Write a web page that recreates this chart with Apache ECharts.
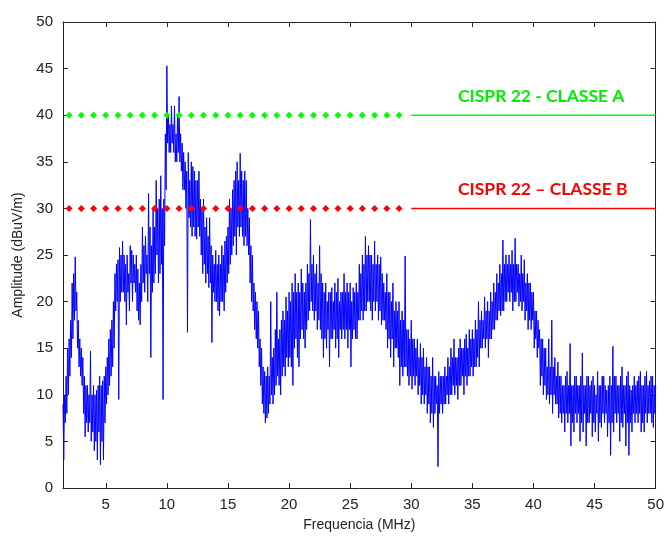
<!DOCTYPE html>
<html><head><meta charset="utf-8">
<script src="https://cdn.jsdelivr.net/npm/echarts@6/dist/echarts.min.js"></script>
<style>html,body{margin:0;padding:0;background:#fff}#c{width:667px;height:537px}</style>
</head><body><div id="c"></div>
<script>
// Spectrum samples, every 1/16 MHz starting at 1.5 MHz (one row per MHz)
const startFreq = 1.5, stepFreq = 0.0625;
const amplitude = [
 9,3, 10,7, 12,8, 15,10, 16,12, 18,14, 22,16, 23,18,
 24.8,19, 21,15, 18,13, 16,12, 15,11, 14,8, 12,5.5, 11,7,
 11,6, 10,7, 14.7,5, 10,6, 11,4, 10,5, 10.5,3, 11,6,
 12,2.5, 11,5, 11.5,3, 12,7, 13,9, 14,10, 16,11, 17,12,
 18,13, 20,15, 23,19, 24,20, 24.5,9.5, 25.8,20, 25,21, 26.5,21,
 25,20, 24,17.5, 25,21, 23,19, 26,22, 25.5,20, 25,22, 24,21,
 25,19, 23.5,18, 22,17.5, 24,20, 28,22, 26,21, 27,23, 25,20,
 31.6,23, 28,14, 26,21, 30,22, 28,23, 33,25, 30,22, 31,23,
 33.5,24, 30,9.5, 31,26, 38,32, 45.3,37, 40,36, 39,36, 41,37,
 39,36, 41,35, 38,35, 40,36, 42,35, 38,34, 37,32, 36,32,
 35,30, 34,16.7, 36,29, 33,28, 35,27, 34.5,28, 34,27, 33,26.7,
 33,28, 34,27, 31,25, 30,23, 31,24, 28,22, 29,23, 27,21.5,
 29,22, 26,15.6, 25,21, 24,20, 25.5,20, 24,19, 25,18.5, 24,20,
 26,20, 25,19, 26.5,21, 27,22, 28,23, 31,24, 30,25, 32,26,
 33,27, 34,25, 35,28, 33,27, 35.9,28, 34,27, 33,26, 34,27,
 33,26, 30,25, 29,22, 26,20, 25,19, 22,17, 21,16, 20,15,
 19,13, 16,11, 15,9, 13,8, 12.5,7, 12,7.5, 13,8, 12,9,
 20,10, 14,9, 15,10, 17,11, 21,12, 16,11, 17,10, 18,12,
 19,13, 18,12, 20.5,14, 19,13, 21,14, 20,13, 22,11, 21,15,
 23,16, 21,14, 22,13, 21,16, 23.5,17, 22,16, 21,15, 22,17,
 24,18, 23,19, 28.8,20, 24,19, 25,18, 23,19, 24,17, 22,18,
 26,17, 23,16, 22,14, 21,16, 22,15, 20,17, 21,13, 21,16,
 21.5,16, 20,17, 22,15, 21,16, 22.5,14, 20,17, 21,16, 21,17,
 23,16, 21,17, 22,15, 21,17, 22,13, 20,16, 21.5,17, 21,16,
 22,16, 21,18, 24,18, 23,19, 25,18, 24,19, 27,19, 25,20,
 26,20, 25,19, 25,18, 24,20, 26.5,19, 24,20, 25,18, 24,19,
 24.8,17.5, 23,18, 22,18, 21,17, 23,15, 21,16, 21,14, 20,16,
 22,13, 19,15, 20,15, 19,14, 20,11, 18,13, 19,12, 18,13,
 24.9,13, 17,12, 17,11, 16,12, 18,10.6, 16,12, 16,11, 15,12,
 16,10, 14,11, 15.5,9, 14,10, 15,9, 13,10, 14,8, 13,9,
 13,7, 12,8, 14,6.5, 12,8, 12,9, 11,2.3, 12.5,8, 12,9,
 12,8, 12,9, 13,9, 12,10, 14,9, 13,10, 15,10, 14,11,
 16,10, 14,11, 14,9.5, 15,11, 16,11, 15,12, 15,10, 16,12,
 16.5,11, 15,12, 17,12, 16,13, 17,12, 16,13, 18,13, 17,14,
 20,13, 18,15, 19,15, 18,16, 20.5,15, 19,16, 20,14, 19,16,
 21,16, 20,17, 22,17, 21,18, 23,18, 22,19, 24,18.5, 23,19,
 26.6,19, 24,20, 25,20, 24,21, 25,20, 24,21, 25.5,19, 24,20,
 26.8,20, 24,21, 24,19.5, 23,20, 25,19, 23,20, 24.5,18, 22,19,
 23,17, 22,18, 22,17, 21,18, 21,15, 19,16, 19,14, 18,15,
 17,11, 16,12, 16,10, 15,11, 15,9.5, 13,10, 16,9, 13,10,
 18,8, 13,10, 14,9, 12,9, 13.5,7.5, 12,8, 12,7, 11,8,
 11,6, 12,8, 12.5,7, 11,8, 15.5,4.5, 11,7, 11,6, 12,8,
 12,7, 11,8, 11,5, 12,7, 14.5,6, 11,8, 11,4.5, 12,7,
 12,7, 11,8, 11.5,5.5, 12,7, 11,6, 10,8, 12.5,5, 11,7,
 11,6.5, 12,8, 12,7, 11,8, 10.5,5.5, 11,7, 12,3.5, 11,7,
 15.2,6, 12,8, 12,7, 11,8, 11,5, 12,7, 13,6.5, 11,8,
 11,4.5, 12,7, 12.5,3.5, 11,7, 10.5,6, 11,8, 12,7, 11,8,
 11.5,7, 12,8, 12.5,6, 11,7, 11,6, 12,8, 12.5,7, 11,8,
 11.5,8, 12,7, 12,6.5, 11,8, 11];
const xTicks = [5,10,15,20,25,30,35,40,45,50];
const limitA = 40, limitB = 30;
const dottedFreqs = [2,3,4,5,6,7,8,9,10,11,12,13,14,15,16,17,18,19,20,21,22,23,24,25,26,27,28,29];
const solidFreqs = [30,50];
const labelA = 'CISPR 22 - CLASSE A', labelB = 'CISPR 22 \u2013 CLASSE B';

const trace = amplitude.map((v, i) => [startFreq + i * stepFreq, v]);

const axisCol = '#262626';
const chart = echarts.init(document.getElementById('c'), null, {renderer: 'canvas'});
const baseX = {type: 'value', min: 1.5, max: 50, interval: 5,
  axisLine: {show: true, onZero: false, lineStyle: {color: axisCol, width: 1}},
  axisTick: {show: true, inside: true, length: 5, lineStyle: {color: axisCol}, customValues: xTicks},
  splitLine: {show: false}};
chart.setOption({
  animation: false,
  grid: {left: 63, right: 10, top: 22, bottom: 48, containLabel: false},
  xAxis: [
    Object.assign({}, baseX, {position: 'bottom', name: 'Frequencia (MHz)', nameLocation: 'middle', nameGap: 30,
      nameTextStyle: {fontFamily: 'Liberation Sans', fontSize: 14, color: '#222'},
      axisLabel: {customValues: xTicks, fontFamily: 'Liberation Sans', fontSize: 15, color: '#222', margin: 9}}),
    Object.assign({}, baseX, {position: 'top', axisLabel: {show: false}})
  ],
  yAxis: [
    {type: 'value', min: 0, max: 50, interval: 5, position: 'left',
     name: 'Amplitude (dBuV/m)', nameLocation: 'middle', nameGap: 38, nameRotate: 90,
     nameTextStyle: {fontFamily: 'Liberation Sans', fontSize: 14, color: '#222'},
     axisLine: {show: true, lineStyle: {color: axisCol}},
     axisTick: {show: true, inside: true, length: 5, lineStyle: {color: axisCol}},
     axisLabel: {fontFamily: 'Liberation Sans', fontSize: 15, color: '#222', margin: 10},
     splitLine: {show: false}},
    {type: 'value', min: 0, max: 50, interval: 5, position: 'right',
     axisLine: {show: true, lineStyle: {color: axisCol}},
     axisTick: {show: true, inside: true, length: 5, lineStyle: {color: axisCol}},
     axisLabel: {show: false}, splitLine: {show: false}}
  ],
  series: [
    {type: 'line', data: trace, showSymbol: false, symbol: 'none', lineStyle: {color: '#0000ff', width: 1}, z: 2},
    {type: 'line', data: dottedFreqs.map(f => [f, limitA]), symbol: 'diamond', symbolSize: 7,
     itemStyle: {color: '#00ff00'}, lineStyle: {opacity: 0}, z: 3},
    {type: 'line', data: solidFreqs.map(f => [f, limitA]), symbol: 'none', lineStyle: {color: '#00ff00', width: 1.5}, z: 3},
    {type: 'line', data: dottedFreqs.map(f => [f, limitB]), symbol: 'diamond', symbolSize: 7,
     itemStyle: {color: '#ff0000'}, lineStyle: {opacity: 0}, z: 3},
    {type: 'line', data: solidFreqs.map(f => [f, limitB]), symbol: 'none', lineStyle: {color: '#ff0000', width: 1.5}, z: 3}
  ],
  graphic: [
    {type: 'text', left: 458, top: 87, style: {text: labelA, fill: '#00ee00', font: 'bold 17.5px Lato'}},
    {type: 'text', left: 458, top: 180, style: {text: labelB, fill: '#ff0000', font: 'bold 17.5px Lato'}}
  ]
});
</script></body></html>
